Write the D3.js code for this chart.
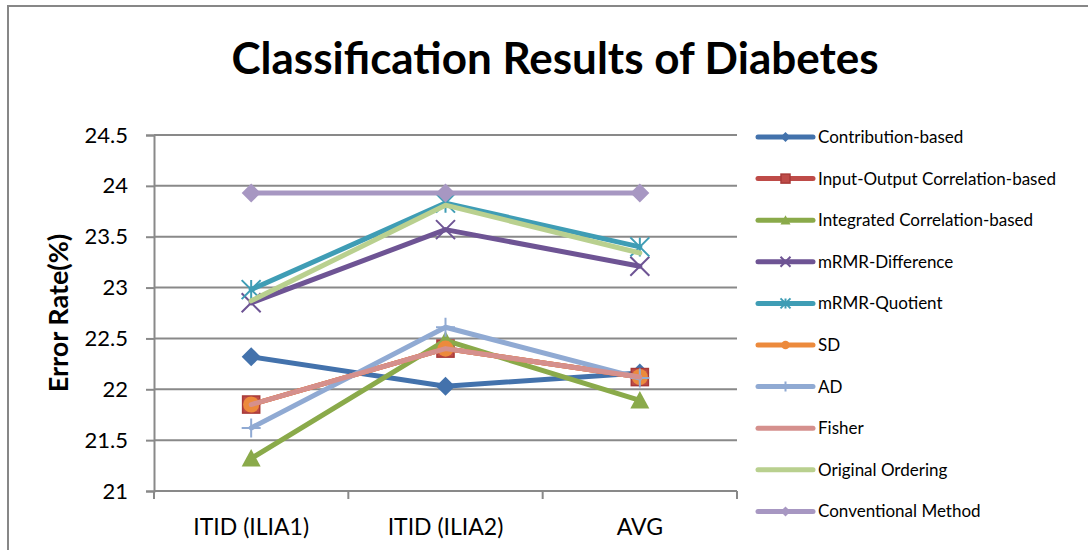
<!DOCTYPE html>
<html>
<head>
<meta charset="utf-8">
<script src="https://cdn.jsdelivr.net/npm/d3@7"></script>
<style>
  html, body { margin: 0; padding: 0; background: #fff; }
  svg { display: block; }
  text { font-family: Lato, "Open Sans", sans-serif; fill: #000; }
</style>
</head>
<body>
<svg id="chart" width="1088" height="550"></svg>
<script>
// Categories along the x axis
const categories = ["ITID (ILIA1)", "ITID (ILIA2)", "AVG"];

// Error rate (%) per method, one value per category
const contributionBased   = [22.32, 22.03, 22.16];
const ioCorrelationBased  = [21.85, 22.40, 22.12];
const integratedCorrBased = [21.32, 22.48, 21.89];
const mrmrDifference      = [22.85, 23.57, 23.21];
const mrmrQuotient        = [22.98, 23.83, 23.40];
const sdValues            = [21.85, 22.40, 22.12];
const adValues            = [21.62, 22.61, 22.11];
const fisherValues        = [21.85, 22.40, 22.12];
const originalOrdering    = [22.87, 23.81, 23.34];
const conventionalMethod  = [23.93, 23.93, 23.93];

const seriesNames = [
  "Contribution-based", "Input-Output Correlation-based", "Integrated Correlation-based",
  "mRMR-Difference", "mRMR-Quotient", "SD", "AD", "Fisher",
  "Original Ordering", "Conventional Method"
];
const seriesValues = [
  contributionBased, ioCorrelationBased, integratedCorrBased, mrmrDifference,
  mrmrQuotient, sdValues, adValues, fisherValues, originalOrdering, conventionalMethod
];

const yTicks = [21, 21.5, 22, 22.5, 23, 23.5, 24, 24.5];

// Visual style per series
const styles = [
  { color: "#4372AC", marker: "diamond",  fill: "#4372AC" },
  { color: "#BE4B48", marker: "square",   fill: "#BE4B48", stroke: "#A83A38" },
  { color: "#8AAA4A", marker: "triangle", fill: "#8AAA4A" },
  { color: "#6E5494", marker: "x" },
  { color: "#3F9DB5", marker: "asterisk" },
  { color: "#EC8A3C", marker: "circle",   fill: "#EC8A3C" },
  { color: "#90AAD3", marker: "plus" },
  { color: "#D5908D", marker: "none" },
  { color: "#B9D08F", marker: "none" },
  { color: "#A797C2", marker: "diamond",  fill: "#A797C2" }
];

const svg = d3.select("#chart");

// Outer chart frame
svg.append("rect")
  .attr("x", 8).attr("y", 6).attr("width", 1100).attr("height", 560)
  .attr("fill", "#fff").attr("stroke", "#878787").attr("stroke-width", 2);

// Title
svg.append("text")
  .attr("x", 555).attr("y", 74)
  .attr("text-anchor", "middle")
  .style("font-size", "44px").style("font-weight", "bold")
  .text("Classification Results of Diabetes");

const plot = { left: 154, right: 737, top: 135, bottom: 491 };

const x = d3.scalePoint().domain(categories).range([plot.left, plot.right]).padding(0.5);
const xBand = d3.scaleBand().domain(categories).range([plot.left, plot.right]);
const y = d3.scaleLinear().domain([21, 24.5]).range([plot.bottom, plot.top]);

const gridColor = "#898989";

// Horizontal gridlines
svg.append("g").selectAll("line").data(yTicks.slice(1)).join("line")
  .attr("x1", plot.left).attr("x2", plot.right)
  .attr("y1", d => y(d)).attr("y2", d => y(d))
  .attr("stroke", gridColor).attr("stroke-width", 2);

// Y axis
const yAxis = svg.append("g")
  .attr("transform", `translate(${plot.left},0)`)
  .call(d3.axisLeft(y).tickValues(yTicks).tickFormat(d3.format("")).tickSize(8).tickPadding(18));
yAxis.select(".domain").attr("stroke", gridColor).attr("stroke-width", 2);
yAxis.selectAll(".tick line").attr("stroke", gridColor).attr("stroke-width", 2);
yAxis.selectAll(".tick text").style("font-size", "22px").style("font-family", "Lato, sans-serif");

// X axis with ticks on category boundaries
const xAxisG = svg.append("g").attr("transform", `translate(0,${plot.bottom})`);
xAxisG.append("line")
  .attr("x1", plot.left).attr("x2", plot.right)
  .attr("stroke", gridColor).attr("stroke-width", 2);
const boundaries = categories.map(c => xBand(c)).concat([xBand(categories[categories.length - 1]) + xBand.bandwidth()]);
xAxisG.selectAll("line.tk").data(boundaries).join("line").attr("class", "tk")
  .attr("x1", d => d).attr("x2", d => d).attr("y1", 0).attr("y2", 8)
  .attr("stroke", gridColor).attr("stroke-width", 2);
xAxisG.selectAll("text").data(categories).join("text")
  .attr("x", d => x(d)).attr("y", 44)
  .attr("text-anchor", "middle")
  .style("font-size", "23px")
  .text(d => d);

// Y axis title
svg.append("text")
  .attr("transform", `translate(68,313) rotate(-90)`)
  .attr("text-anchor", "middle")
  .style("font-size", "27px").style("font-weight", "bold")
  .text("Error Rate(%)");

// Marker drawing
function drawMarker(g, type, s, st) {
  const h = s / 2;
  if (type === "diamond") {
    g.append("path").attr("d", `M0,${-h}L${h},0L0,${h}L${-h},0Z`).attr("fill", st.fill);
  } else if (type === "square") {
    g.append("rect").attr("x", -h * 0.9).attr("y", -h * 0.9).attr("width", s * 0.9).attr("height", s * 0.9)
      .attr("fill", st.fill).attr("stroke", st.stroke).attr("stroke-width", 1.5);
  } else if (type === "triangle") {
    g.append("path").attr("d", `M0,${-h}L${h},${h * 0.85}L${-h},${h * 0.85}Z`).attr("fill", st.fill);
  } else if (type === "circle") {
    g.append("circle").attr("r", h * 0.85).attr("fill", st.fill);
  } else if (type === "x") {
    g.append("path").attr("d", `M${-h},${-h}L${h},${h}M${h},${-h}L${-h},${h}`)
      .attr("stroke", st.color).attr("stroke-width", 2).attr("fill", "none");
  } else if (type === "asterisk") {
    g.append("path").attr("d", `M${-h},${-h}L${h},${h}M${h},${-h}L${-h},${h}M0,${-h}L0,${h}`)
      .attr("stroke", st.color).attr("stroke-width", 2).attr("fill", "none");
  } else if (type === "plus") {
    g.append("path").attr("d", `M${-h},0L${h},0M0,${-h}L0,${h}`)
      .attr("stroke", st.color).attr("stroke-width", 2).attr("fill", "none");
  }
}

const line = d3.line().x((d, i) => x(categories[i])).y(d => y(d));

// Series lines and markers, drawn in order so later series sit on top
seriesValues.forEach((vals, si) => {
  const st = styles[si];
  const g = svg.append("g");
  g.append("path").datum(vals)
    .attr("d", line)
    .attr("fill", "none")
    .attr("stroke", st.color)
    .attr("stroke-width", 5)
    .attr("stroke-linejoin", "round")
    .attr("stroke-linecap", "round");
  vals.forEach((v, i) => {
    const mg = g.append("g").attr("transform", `translate(${x(categories[i])},${y(v)})`);
    drawMarker(mg, st.marker, 19, st);
  });
});

// Legend
const legend = svg.append("g").attr("transform", "translate(758,137)");
seriesNames.forEach((name, i) => {
  const st = styles[i];
  const row = legend.append("g").attr("transform", `translate(0,${i * 41.6})`);
  row.append("line").attr("x1", 0).attr("x2", 55)
    .attr("stroke", st.color).attr("stroke-width", 5).attr("stroke-linecap", "round");
  const mg = row.append("g").attr("transform", "translate(27.5,0)");
  drawMarker(mg, st.marker, 10, st);
  row.append("text").attr("x", 60).attr("y", 0).attr("dy", "0.35em")
    .style("font-size", "17px").text(name);
});
</script>
</body>
</html>
